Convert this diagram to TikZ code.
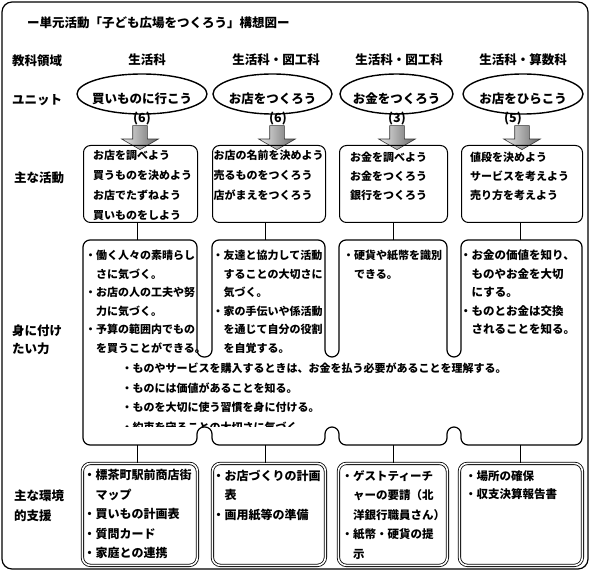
\documentclass[tikz,border=0pt]{standalone}
\usepackage{fontspec}
\setmainfont{Noto Sans CJK JP}
\usetikzlibrary{positioning,shapes.geometric,shapes.arrows,calc}

\newcommand\jpsize[2]{\fontsize{#1}{#2}\selectfont\bfseries}

\begin{document}
\begin{tikzpicture}[
  x=1pt, y=-1pt,
  rowlabel/.style={anchor=north west, inner sep=0pt, align=left, font=\jpsize{12.5}{#1}},
  colhead/.style={inner sep=0pt, font=\jpsize{12.5}{15}},
  unitoval/.style={draw, ellipse, line width=1.4pt, minimum height=40, inner sep=0pt},
  unittext/.style={inner sep=0pt, font=\jpsize{12.5}{15}},
  unitcount/.style={inner sep=0pt, font=\jpsize{12.5}{15}},
  blockarrow/.style={
    single arrow,
    draw=black!80,
    line width=0.6pt,
    rotate=-90,
    minimum height=24,
    inner xsep=0pt,
    inner ysep=7pt,
    single arrow head extend=11,
    single arrow tip angle=120,
    left color=black!8,
    right color=black!60
    },
  actbox/.style={draw, rounded corners=7, line width=1pt, anchor=north west, minimum height=77, inner sep=0pt},
  envbox/.style={draw, double, double distance=1.6pt, line width=0.8pt, rounded corners=8, anchor=north west, minimum height=102, inner sep=0pt},
  txt/.style={anchor=north west, inner sep=0pt, align=left, font=\jpsize{11}{#1}},
  bigtxt/.style={anchor=north west, inner sep=0pt, align=left, font=\jpsize{12}{#1}},
  midtxt/.style={anchor=north west, inner sep=0pt, align=left, font=\jpsize{11.5}{#1}},
  link/.style={line width=0.9pt}
]
\useasboundingbox (0,0) rectangle (597,572);

% outer frame and title
\draw[line width=1.2pt, rounded corners=10] (2,2) rectangle (588,569);
\node[anchor=west, inner sep=0pt, font=\jpsize{12.5}{15}] (title) at (27,23) {ー単元活動「子ども広場をつくろう」構想図ー};

% row labels
\node[rowlabel=18] (lbsubj) at (12,54.3) {教科領域};
\node[rowlabel=18] (lbunit) at (12,94.3) {ユニット};
\node[rowlabel=18] (lbact) at (14,171.3) {主な活動};
\node[rowlabel=18] (lbabl) at (12,324.3) {身に付け\\たい力};
\node[rowlabel=20] (lbenv) at (14,489.3) {主な環境\\的支援};

% subjects
\node[colhead] (subj1) at (147,60) {生活科};
\node[colhead] (subj2) at (276,60) {生活科・図工科};
\node[colhead] (subj3) at (399,60) {生活科・図工科};
\node[colhead] (subj4) at (523,60) {生活科・算数科};

% units
\node[unitoval, minimum width=130] (unit1) at (142,94) {};
\node[unitoval, minimum width=119] (unit2) at (272.5,94) {};
\node[unitoval, minimum width=113] (unit3) at (396.5,94) {};
\node[unitoval, minimum width=120] (unit4) at (523,94) {};

\node[unittext] (unit1txt) at ($(unit1.center)+(0,5)$) {買いものに行こう};
\node[unittext] (unit2txt) at ($(unit2.center)+(0,5)$) {お店をつくろう};
\node[unittext] (unit3txt) at ($(unit3.center)+(0,5)$) {お金をつくろう};
\node[unittext] (unit4txt) at ($(unit4.center)+(0,5)$) {お店をひらこう};

\node[unitcount] (cnt1) at (142,119) {(6)};
\node[unitcount] (cnt2) at (278,119) {(6)};
\node[unitcount] (cnt3) at (397,119) {(3)};
\node[unitcount] (cnt4) at (513,119) {(5)};

\node[blockarrow] (arr1) at (140,135.5) {};
\node[blockarrow] (arr2) at (277,135.5) {};
\node[blockarrow] (arr3) at (397,135.5) {};
\node[blockarrow] (arr4) at (522,135.5) {};

% main activities
\node[actbox, minimum width=114] (act1) at (83,145) {};
\node[actbox, minimum width=113] (act2) at (212,145) {};
\node[actbox, minimum width=108] (act3) at (339,145) {};
\node[actbox, minimum width=121] (act4) at (461,145) {};

\node[txt=20] (act1txt) at (93,150) {お店を調べよう\\買うものを決めよう\\お店でたずねよう\\買いものをしよう};
\node[txt=20] (act2txt) at (213.5,150) {お店の名前を決めよう\\売るものをつくろう\\店がまえをつくろう};
\node[txt=19] (act3txt) at (350,152) {お金を調べよう\\お金をつくろう\\銀行をつくろう};
\node[txt=19] (act4txt) at (470,152) {値段を決めよう\\サービスを考えよう\\売り方を考えよう};

% abilities
\draw[line width=1.2pt, rounded corners=7]
  (83,300) -- (83,240) -- (197,240) -- (197,357) -- (212,357) -- (212,240)
  -- (325,240) -- (325,357) -- (339,357) -- (339,240)
  -- (447,240) -- (447,357) -- (461,357) -- (461,240)
  -- (582,240) -- (582,445)
  -- (461,445) -- (461,427) -- (447,427) -- (447,445)
  -- (339,445) -- (339,427) -- (325,427) -- (325,445)
  -- (212,445) -- (212,427) -- (197,427) -- (197,445)
  -- (83,445) -- cycle;

\foreach \i/\x in {1/137, 2/265, 3/393, 4/520} {
  \coordinate (ablt\i) at (\x,240);
  \coordinate (ablb\i) at (\x,445);
}

\node[txt=18.5] (abl1) at (85,250) {・働く人々の素晴らし\\　さに気づく。\\・お店の人の工夫や努\\　力に気づく。\\・予算の範囲内でもの\\　を買うことができる。};
\node[txt=18.5] (abl2) at (212.5,250) {・友達と協力して活動\\　することの大切さに\\　気づく。\\・家の手伝いや係活動\\　を通じて自分の役割\\　を自覚する。};
\node[txt=18.5] (abl3) at (343,250) {・硬貨や紙幣を識別\\　できる。};
\node[midtxt=18.5] (abl4) at (460,249.5) {・お金の価値を知り、\\　ものやお金を大切\\　にする。\\・ものとお金は交換\\　されることを知る。};

\begin{scope}
  \clip (0,0) rectangle (597,426);
  \node[txt=19.5] (ablall) at (121.5,363) {・ものやサービスを購入するときは、お金を払う必要があることを理解する。\\・ものには価値があることを知る。\\・ものを大切に使う習慣を身に付ける。\\・約束を守ることの大切さに気づく。};
\end{scope}

% environment support
\node[envbox, minimum width=115] (env1) at (82,463) {};
\node[envbox, minimum width=113] (env2) at (212,463) {};
\node[envbox, minimum width=109] (env3) at (338,463) {};
\node[envbox, minimum width=123] (env4) at (459,463) {};

\node[bigtxt=19.5] (env1txt) at (83.5,469.5) {・標茶町駅前商店街\\　マップ\\・買いもの計画表\\・質問カード\\・家庭との連携};
\node[bigtxt=19.5] (env2txt) at (212.5,469.5) {・お店づくりの計画\\　表\\・画用紙等の準備};
\node[midtxt=19.5] (env3txt) at (341.5,470) {・ゲストティーチ\\　ャーの要請（北\\　洋銀行職員さん）\\・紙幣・硬貨の提\\　示};
\node[midtxt=18.5] (env4txt) at (465,470) {・場所の確保\\・収支決算報告書};

% links
\foreach \i in {1,...,4} {
  \draw[link] (ablt\i |- act\i.south) -- (ablt\i);
  \draw[link] (ablb\i) -- (ablb\i |- env\i.north);
}

\end{tikzpicture}
\end{document}
